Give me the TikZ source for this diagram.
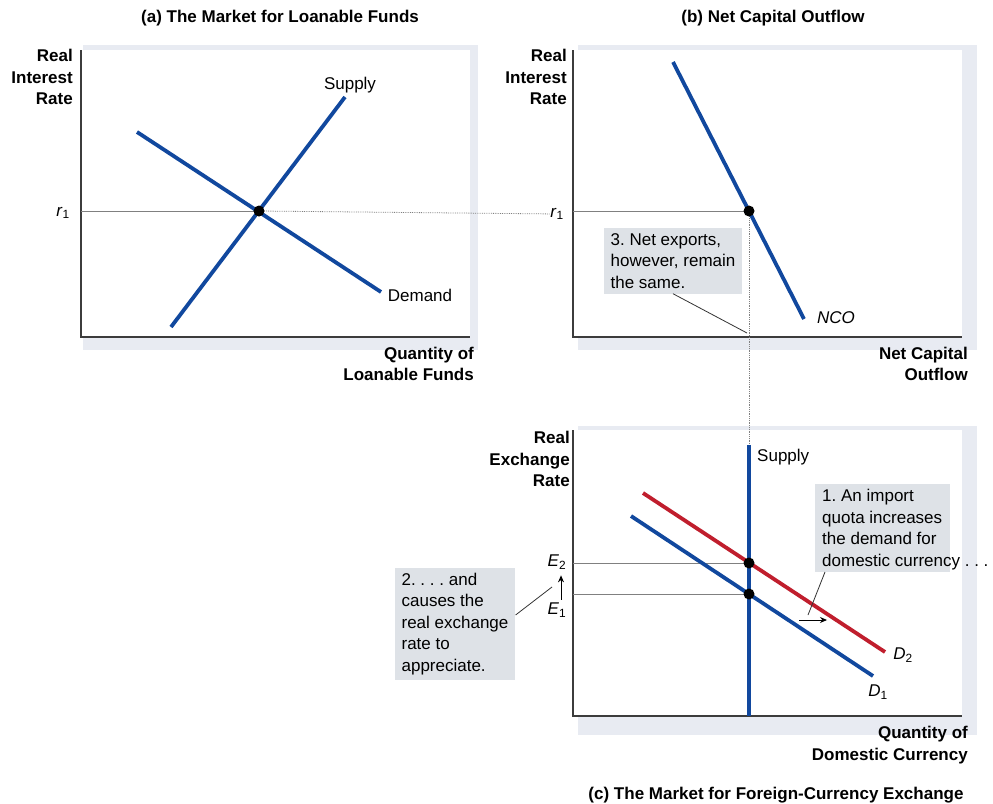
\documentclass[tikz,border=0pt]{standalone}
\usepackage{fontspec}
\setmainfont{Liberation Sans}
\usetikzlibrary{arrows.meta}
\frenchspacing

\definecolor{curveblue}{RGB}{17,72,158}
\definecolor{curvered}{RGB}{192,30,45}
\definecolor{notegray}{RGB}{222,226,231}
\definecolor{panelshade}{RGB}{232,235,242}
\definecolor{axisgray}{RGB}{60,60,60}

\begin{document}
\begin{tikzpicture}[x=1pt,y=-1pt,
  every node/.style={font=\fontsize{17}{21.5}\selectfont, inner sep=0pt},
  paneltitle/.style={font=\bfseries\fontsize{17}{21.5}\selectfont},
  axislabel/.style={font=\bfseries\fontsize{17}{21.5}\selectfont, align=right, anchor=east},
  axisline/.style={draw=axisgray, line width=1.3pt},
  blueline/.style={line width=3.8pt, curveblue},
  redline/.style={line width=3.8pt, curvered},
  guideline/.style={gray, line width=0.8pt},
  dottedguide/.style={gray, line width=0.8pt, densely dotted},
  eqdot/.style={circle, fill=black, minimum size=11pt},
  notebox/.style={fill=notegray, align=left, inner xsep=7pt, inner ysep=5pt},
  leaderline/.style={black!80, line width=0.8pt}]
  \useasboundingbox (0,0) rectangle (993,803);

  % Sfondi
  \fill[panelshade] (83,45) rectangle (478,350);
  \fill[white] (81,50) rectangle (470,337);
  \fill[panelshade] (578,45) rectangle (977,350);
  \fill[white] (573,50) rectangle (962,337);
  \fill[panelshade] (578,426) rectangle (977,735);
  \fill[white] (573,430) rectangle (962,716);

  % Titoli
  \node[paneltitle] (titleA) at (280,18) {(a) The Market for Loanable Funds};
  \node[paneltitle] (titleB) at (773,18) {(b) Net Capital Outflow};
  \node[paneltitle] (titleC) at (776,795) {(c) The Market for Foreign-Currency Exchange};

  % Assi
  \coordinate (aTop) at (81,50);
  \coordinate (aO) at (81,337);
  \coordinate (aEnd) at (470,337);
  \coordinate (bTop) at (573,50);
  \coordinate (bO) at (573,337);
  \coordinate (bEnd) at (962,337);
  \coordinate (cTop) at (573,430);
  \coordinate (cO) at (573,716);
  \coordinate (cEnd) at (962,716);
  \draw[axisline] (aTop) -- (aO) -- (aEnd);
  \draw[axisline] (bTop) -- (bO) -- (bEnd);
  \draw[axisline] (cTop) -- (cO) -- (cEnd);

  \node[axislabel] (ylabA) at (73,77) {Real\\Interest\\Rate};
  \node[axislabel] (xlabA) at (474,364) {Quantity of\\Loanable Funds};
  \node[axislabel] (ylabB) at (567,77) {Real\\Interest\\Rate};
  \node[axislabel] (xlabB) at (968,364) {Net Capital\\Outflow};
  \node[axislabel] (ylabC) at (570,459) {Real\\Exchange\\Rate};
  \node[axislabel] (xlabC) at (968,745) {Quantity of\\Domestic Currency};

  % Pannello (a)
  \coordinate (aS1) at (171,327);
  \coordinate (aS2) at (345,97);
  \coordinate (aD1) at (137,132);
  \coordinate (aD2) at (381,292);
  \coordinate (aR1) at (81,211);
  \coordinate (aEqPt) at (259,211);
  \node (r1A) at (63,213) {\textit{r}\textsubscript{1}};
  \node (supA) at (350,85) {Supply};
  \node (demA) at (420,295) {Demand};

  % Pannello (b)
  \coordinate (bN1) at (673,62);
  \coordinate (bN2) at (804,319);
  \coordinate (bR1) at (573,211);
  \coordinate (bEqPt) at (749,211);
  \node (r1B) at (557,214) {\textit{r}\textsubscript{1}};
  \node (ncoLab) at (836,318) {\itshape NCO};
  \node[notebox] (note3) at (673,261) {3. Net exports,\\however, remain\\the same.};
  \coordinate (note3Tip) at (747,333);

  % Pannello (c)
  \coordinate (cS1) at (749,716);
  \coordinate (cS2) at (749,445);
  \coordinate (cD2a) at (643,493);
  \coordinate (cD2b) at (885,652);
  \coordinate (cD1a) at (631,516);
  \coordinate (cD1b) at (873,676);
  \coordinate (e2Axis) at (573,563);
  \coordinate (e1Axis) at (573,594);
  \coordinate (cEq2Pt) at (749,563);
  \coordinate (cEq1Pt) at (749,594);
  \node[anchor=west] (supC) at (757,457) {Supply};
  \node (d2Lab) at (903,655) {\textit{D}\textsubscript{2}};
  \node (d1Lab) at (878,692) {\textit{D}\textsubscript{1}};
  \node (e2Lab) at (557,562) {\textit{E}\textsubscript{2}};
  \node (e1Lab) at (557,610) {\textit{E}\textsubscript{1}};
  \fill[notegray] (815,484) rectangle (950,572);
  \node[align=left, anchor=north west] (note1) at (822,489)
    {1. An import\\quota increases\\the demand for\\domestic currency . . .};
  \node[notebox] (note2) at (455,624)
    {2. . . . and\\causes the\\real exchange\\rate to\\appreciate.};
  \coordinate (note1Base) at (825,572);
  \coordinate (note1Tip) at (808,615);
  \coordinate (note2Tip) at (552,587);
  \coordinate (shiftA) at (799,620);
  \coordinate (shiftB) at (827,620);

  % Linee guida
  \draw[guideline] (aR1) -- (aEqPt);
  \draw[dottedguide] (aEqPt) -- (r1B);
  \draw[guideline] (bR1) -- (bEqPt);
  \draw[dottedguide] (bEqPt) -- (cS2);
  \draw[guideline] (e2Axis) -- (cEq2Pt);
  \draw[guideline] (e1Axis) -- (cEq1Pt);

  % Curve
  \draw[blueline] (aS1) -- (aS2);
  \draw[blueline] (aD1) -- (aD2);
  \draw[blueline] (bN1) -- (bN2);
  \draw[blueline] (cS1) -- (cS2);
  \draw[redline] (cD2a) -- (cD2b);
  \draw[blueline] (cD1a) -- (cD1b);

  % Equilibri
  \node[eqdot] (aEq) at (aEqPt) {};
  \node[eqdot] (bEq) at (bEqPt) {};
  \node[eqdot] (cEq2) at (cEq2Pt) {};
  \node[eqdot] (cEq1) at (cEq1Pt) {};

  % Frecce e richiami
  \draw[leaderline] (note3.south) -- (note3Tip);
  \draw[leaderline] (note1Base) -- (note1Tip);
  \draw[leaderline] ([yshift=9pt]note2.east) -- (note2Tip);
  \draw[-{Stealth[length=7pt,width=6pt]}, line width=0.9pt] (shiftA) -- (shiftB);
  \draw[-{Stealth[length=7pt,width=6pt]}, line width=0.9pt]
    ([xshift=4pt,yshift=3pt]e1Lab.north) -- ([xshift=4pt,yshift=-6pt]e2Lab.south);
\end{tikzpicture}
\end{document}
